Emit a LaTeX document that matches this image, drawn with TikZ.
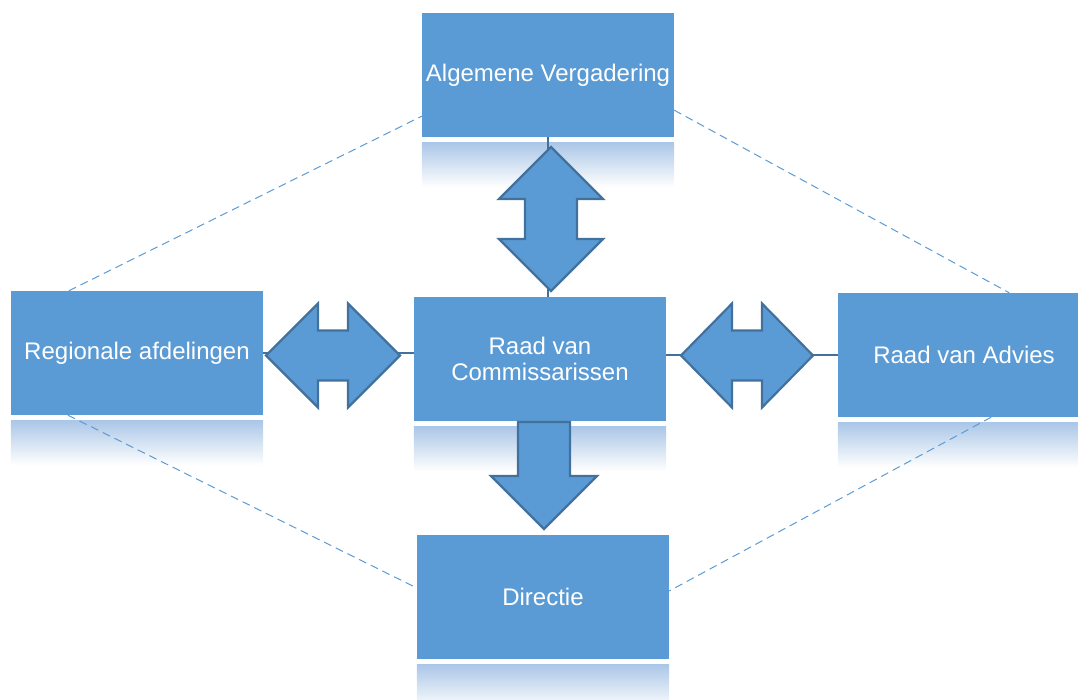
\documentclass[tikz,border=0pt]{standalone}
\usepackage{fontspec}
\setmainfont{Liberation Sans}
\definecolor{boxblue}{RGB}{91,155,213}
\definecolor{edgeblue}{RGB}{65,113,156}
\definecolor{reflblue}{RGB}{170,198,231}

\begin{document}
\begin{tikzpicture}[x=1pt, y=1pt,
  orgbox/.style={fill=boxblue, text=white, minimum width=252, minimum height=124,
    inner sep=2pt, align=center, font=\fontsize{24}{26}\selectfont},
  blockarrow/.style={fill=boxblue, draw=edgeblue, line width=2.2pt, line join=miter},
  link/.style={draw=edgeblue, line width=2pt},
  dashline/.style={draw=boxblue, dash pattern=on 8pt off 5pt, line width=1pt}]

  \clip (0,0) rectangle (1078,700);

  % boxes
  \node[orgbox] (av) at (548,625) {Algemene Vergadering};
  \node[orgbox] (ra) at (137,347) {Regionale afdelingen};
  \node[orgbox] (rvc) at (540,341) {Raad van\\Commissarissen};
  \node[orgbox] (rva) at (964,345) {Raad van Advies};
  \node[orgbox] (dir) at (543,103) {Directie};

  % reflections
  \foreach \b in {av,ra,rvc,rva,dir}
    \shade[top color=reflblue, bottom color=white]
      ([yshift=-5]\b.south west) rectangle ([yshift=-50]\b.south east);

  \draw[dashline] ([xshift=58]ra.north west) -- ([yshift=21]av.south west);
  \draw[dashline] ([yshift=27]av.south east) -- ([xshift=-81]rva.north east);
  \draw[dashline] ([xshift=57]ra.south west) -- ([yshift=9]dir.west);
  \draw[dashline] ([xshift=-99]rva.south east) -- ([yshift=6]dir.east);

  \draw[link] (av.south) -- (av.south |- rvc.north);
  \draw[link] (ra.east) -- (ra.east -| rvc.west);
  \draw[link] (rvc.east |- rva.west) -- (rva.west);

  % block arrows
  \draw[blockarrow, shift={(551,481)}] (0,72) -- (52,20) -- (26,20) -- (26,-20) -- (52,-20)
    -- (0,-72) -- (-52,-20) -- (-26,-20) -- (-26,20) -- (-52,20) -- cycle;
  \draw[blockarrow, shift={(333,344.5)}] (-67,0) -- (-15,52) -- (-15,25) -- (15,25) -- (15,52)
    -- (67,0) -- (15,-52) -- (15,-25) -- (-15,-25) -- (-15,-52) -- cycle;
  \draw[blockarrow, shift={(747,344.5)}] (-66,0) -- (-15,52) -- (-15,25) -- (15,25) -- (15,52)
    -- (66,0) -- (15,-52) -- (15,-25) -- (-15,-25) -- (-15,-52) -- cycle;
  \draw[blockarrow, shift={(544,224)}] (-26,54) -- (26,54) -- (26,0) -- (53,0)
    -- (0,-53) -- (-53,0) -- (-26,0) -- cycle;

\end{tikzpicture}
\end{document}
